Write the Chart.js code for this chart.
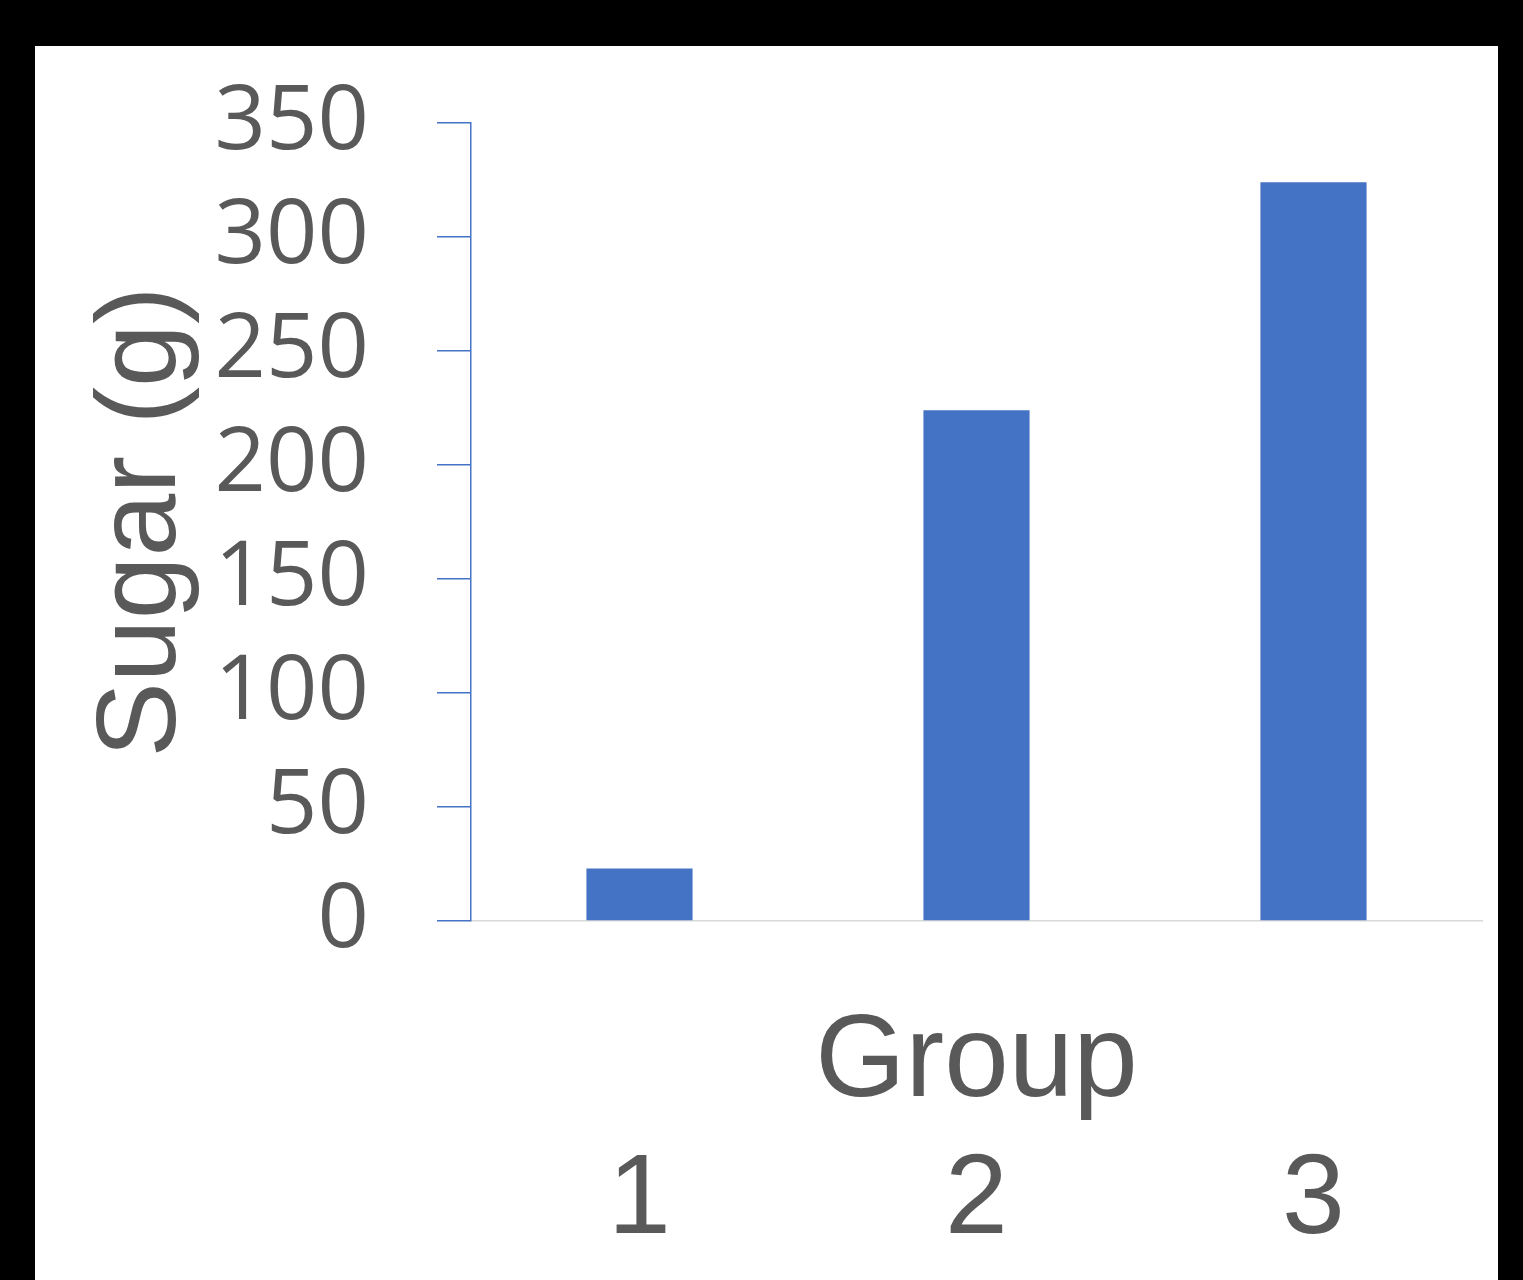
<!DOCTYPE html>
<html>
<head>
<meta charset="utf-8">
<script src="https://cdn.jsdelivr.net/npm/chart.js@4"></script>
<style>
  html, body { margin: 0; padding: 0; background: #000; width: 1523px; height: 1280px; overflow: hidden; }
  #wrap { position: absolute; left: 35px; top: 46px; width: 1463px; height: 1234px; background: #fff; }
  canvas { display: block; }
</style>
</head>
<body>
<div id="wrap"><canvas id="c"></canvas></div>
<script>
const categories = ['1', '2', '3'];
const sugarValues = [23, 224, 324];
const yTickValues = [0, 50, 100, 150, 200, 250, 300, 350];
const xTitle = 'Group';
const yTitle = 'Sugar (g)';

const textColor = '#595959';
const barColor = '#4472C4';

new Chart(document.getElementById('c'), {
  type: 'bar',
  data: {
    labels: categories,
    datasets: [{
      label: yTitle,
      data: sugarValues,
      backgroundColor: barColor,
      borderWidth: 0,
      barPercentage: 0.315,
      categoryPercentage: 1.0
    }]
  },
  options: {
    responsive: true,
    maintainAspectRatio: false,
    animation: false,
    devicePixelRatio: 1,
    layout: { padding: { top: 77, right: 16, left: 0, bottom: 0 } },
    plugins: { legend: { display: false }, tooltip: { enabled: false } },
    scales: {
      x2: {
        type: 'category',
        position: 'bottom',
        weight: 0,
        labels: categories,
        grid: { display: false, drawTicks: false },
        border: { display: true, color: '#d9d9d9', width: 1.5 },
        ticks: { display: false },
        title: {
          display: true,
          text: xTitle,
          color: textColor,
          font: { family: '"Liberation Sans", Arial, sans-serif', size: 116, lineHeight: 1 },
          padding: { top: 0, bottom: 0 }
        },
        afterFit: (s) => { s.height = 201; }
      },
      x: {
        type: 'category',
        position: 'bottom',
        weight: 1,
        grid: { display: false, drawTicks: false },
        border: { display: false },
        ticks: {
          color: textColor,
          padding: 23,
          maxRotation: 0,
          font: { family: '"Liberation Sans", Arial, sans-serif', size: 113, lineHeight: 1 }
        },
        afterFit: (s) => { s.height = 158; }
      },
      y: {
        min: 0,
        max: 350,
        afterBuildTicks: (s) => { s.ticks = yTickValues.map(v => ({ value: v })); },
        grid: {
          display: true,
          drawOnChartArea: false,
          drawTicks: true,
          tickLength: 34,
          color: barColor,
          lineWidth: 1.5
        },
        border: { display: true, color: barColor, width: 1.5 },
        ticks: {
          color: textColor,
          padding: 68,
          font: { family: '"Open Sans", Lato, sans-serif', size: 90, lineHeight: 1 }
        },
        title: {
          display: true,
          text: yTitle,
          color: textColor,
          font: { family: '"Liberation Sans", Arial, sans-serif', size: 113, lineHeight: 1 },
          padding: { top: 52, bottom: 0 }
        },
        afterFit: (s) => { s.width = 436; s.paddingTop = 0; s.paddingBottom = 0; }
      }
    }
  }
});
</script>
</body>
</html>
